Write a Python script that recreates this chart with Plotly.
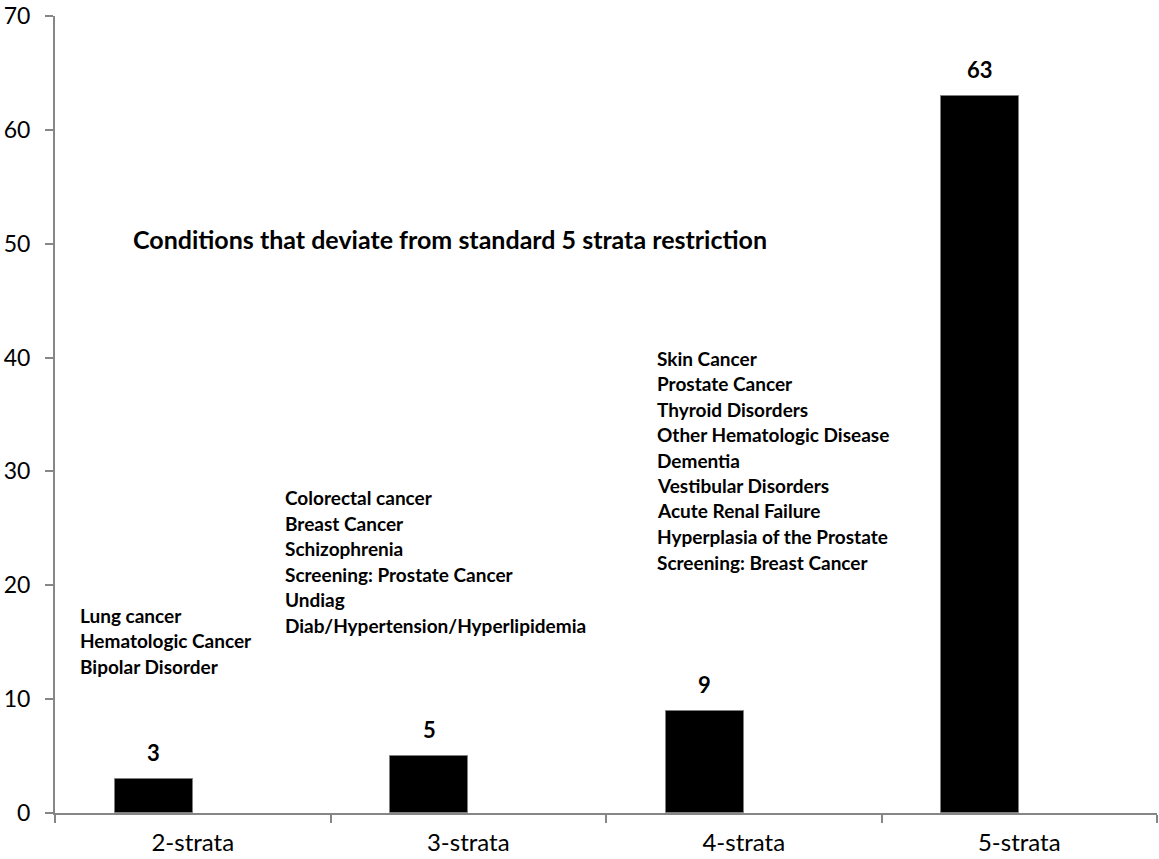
import plotly.graph_objects as go

# Number of strata per restriction scheme and how many conditions use each
categories = ["2-strata", "3-strata", "4-strata", "5-strata"]
counts = [3, 5, 9, 63]

# Conditions listed beside the non-standard schemes
conds_2 = ["Lung cancer", "Hematologic Cancer", "Bipolar Disorder"]
conds_3 = ["Colorectal cancer", "Breast Cancer", "Schizophrenia",
           "Screening: Prostate Cancer", "Undiag",
           "Diab/Hypertension/Hyperlipidemia"]
conds_4 = ["Skin Cancer", "Prostate Cancer", "Thyroid Disorders",
           "Other Hematologic Disease", "Dementia", "Vestibular Disorders",
           "Acute Renal Failure", "Hyperplasia of the Prostate",
           "Screening: Breast Cancer"]
note = "Conditions that deviate from standard 5 strata restriction"

y_ticks = [0, 10, 20, 30, 40, 50, 60, 70]

FONT = "Lato"
AXIS_COLOR = "#868686"
W, H = 1159, 859
ML, MR, MT, MB = 55, 2, 16, 46
PW, PH = W - ML - MR, H - MT - MB
BAR_W = 0.283


def px_x(px):
    return (px - ML) / PW


def px_y(py):
    return (H - MB - py) / PH


fig = go.Figure()
fig.add_trace(go.Bar(
    x=categories, y=counts,
    width=BAR_W, offset=-BAR_W,
    marker=dict(color="#000000", line=dict(color="#7f7f7f", width=1)),
    hoverinfo="x+y",
))

annotations = []
# value labels above each bar
for cat, v in zip(categories, counts):
    annotations.append(dict(
        x=cat, y=v, xref="x", yref="y", text=f"<b>{v}</b>",
        showarrow=False, xanchor="center", yanchor="bottom",
        xshift=-BAR_W / 2 * PW / 4, yshift=11,
        font=dict(family=FONT, size=22, color="#000000"),
    ))

# condition lists, one annotation per line
for names, left, top in [(conds_2, 78, 615), (conds_3, 283, 497.5),
                         (conds_4, 655, 358)]:
    for i, name in enumerate(names):
        annotations.append(dict(
            x=px_x(left), y=px_y(top + i * 25.5), xref="paper", yref="paper",
            text=f"<b>{name}</b>", showarrow=False,
            xanchor="left", yanchor="middle",
            font=dict(family=FONT, size=19, color="#000000"),
        ))

annotations.append(dict(
    x=px_x(131), y=px_y(239), xref="paper", yref="paper",
    text=f"<b>{note}</b>", showarrow=False,
    xanchor="left", yanchor="middle",
    font=dict(family=FONT, size=25, color="#000000"),
))

fig.update_layout(
    width=W, height=H,
    margin=dict(l=ML, r=MR, t=MT, b=MB, pad=0, autoexpand=False),
    plot_bgcolor="#ffffff", paper_bgcolor="#ffffff",
    showlegend=False,
    annotations=annotations,
    font=dict(family=FONT, size=24, color="#000000"),
    bargap=0,
)
fig.update_xaxes(
    type="category", range=[-0.5, 3.5], automargin=False,
    showline=True, linecolor=AXIS_COLOR, linewidth=2,
    ticks="outside", tickson="boundaries", ticklen=8,
    tickcolor=AXIS_COLOR, tickwidth=1.5,
    showgrid=False, zeroline=False,
    tickfont=dict(family=FONT, size=24, color="#000000"),
    ticklabelstandoff=7,
)
fig.update_yaxes(
    range=[0, 70], tickvals=y_ticks, automargin=False,
    ticklabeloverflow="allow",
    showline=True, linecolor=AXIS_COLOR, linewidth=2,
    ticks="outside", ticklen=8, tickcolor=AXIS_COLOR, tickwidth=1.5,
    showgrid=False, zeroline=False,
    tickfont=dict(family=FONT, size=23, color="#000000"),
    ticklabelstandoff=10,
)

fig.write_html("out.html")
